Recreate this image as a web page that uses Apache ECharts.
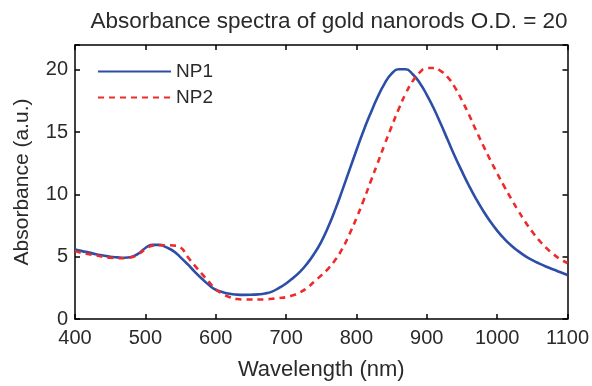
<!DOCTYPE html>
<html>
<head>
<meta charset="utf-8">
<script src="https://cdn.jsdelivr.net/npm/echarts@6/dist/echarts.min.js"></script>
<style>
  html, body { margin: 0; padding: 0; background: #fff; }
  #chart { width: 592px; height: 386px; }
</style>
</head>
<body>
<div id="chart"></div>
<script>
// wavelength grid, nm
const wavelengths = [
  400, 410, 420, 430, 440, 450, 460, 470, 480, 490,
  500, 510, 520, 530, 540, 550, 560, 570, 580, 590,
  600, 610, 620, 630, 640, 650, 660, 670, 680, 690,
  700, 710, 720, 730, 740, 750, 760, 770, 780, 790,
  800, 810, 820, 830, 840, 850, 860, 870, 880, 890,
  900, 910, 920, 930, 940, 950, 960, 970, 980, 990,
  1000, 1010, 1020, 1030, 1040, 1050, 1060, 1070, 1080, 1090, 1100
]

const np1 = [
  5.58, 5.45, 5.33, 5.2, 5.1, 5.0, 4.95, 4.92, 4.98, 5.25,
  5.7, 5.95, 5.95, 5.75, 5.45, 4.95, 4.4, 3.8, 3.25, 2.75,
  2.35, 2.15, 2.02, 1.96, 1.94, 1.95, 1.98, 2.05, 2.2, 2.5,
  2.85, 3.3, 3.8, 4.45, 5.25, 6.2, 7.4, 8.8, 10.35, 11.95,
  13.55, 15.1, 16.5, 17.8, 18.9, 19.7, 20.05, 20.05, 19.65, 18.95,
  18.0, 16.9, 15.65, 14.35, 13.05, 11.85, 10.7, 9.65, 8.7, 7.85,
  7.1, 6.45, 5.9, 5.45, 5.05, 4.72, 4.45, 4.2, 3.97, 3.75, 3.53
]

const np2 = [
  5.45, 5.3, 5.2, 5.1, 5.0, 4.92, 4.88, 4.88, 4.95, 5.2,
  5.6, 5.88, 5.92, 5.92, 5.9, 5.75, 5.0, 4.3, 3.65, 3.0,
  2.4, 2.0, 1.75, 1.6, 1.56, 1.56, 1.56, 1.58, 1.62, 1.68,
  1.75, 1.9, 2.15, 2.5, 3.0, 3.5, 4.05, 4.75, 5.65, 6.8,
  8.1, 9.5, 11.0, 12.5, 14.0, 15.45, 16.85, 18.1, 19.1, 19.8,
  20.15, 20.15, 19.9, 19.4, 18.6, 17.55, 16.4, 15.15, 13.95, 12.8,
  11.7, 10.65, 9.65, 8.7, 7.8, 7.0, 6.3, 5.7, 5.2, 4.8, 4.5
]

const xTicks = [400, 500, 600, 700, 800, 900, 1000, 1100]
const yTicks = [0, 5, 10, 15, 20]

const FONT = 'Liberation Sans, Arial, sans-serif'
const TEXT = '#2a2a2a'
const BLUE = '#2c4ea6'
const RED = '#ee2b2b'

const chart = echarts.init(document.getElementById('chart'), null, { renderer: 'canvas' })

const frameAxis = {
  axisLine: { show: true, onZero: false, lineStyle: { color: '#000', width: 1.5 } },
  axisTick: { show: true, inside: true, length: 5, lineStyle: { color: '#000', width: 1.5 } },
  splitLine: { show: false },
}

chart.setOption({
  animation: false,
  backgroundColor: '#fff',
  title: {
    text: 'Absorbance spectra of gold nanorods O.D. = 20',
    left: 324,
    textAlign: 'center',
    top: 5,
    textStyle: { fontFamily: FONT, fontSize: 22.5, fontWeight: 'normal', color: TEXT },
  },
  legend: {
    orient: 'vertical',
    left: 92,
    top: 57,
    itemWidth: 73,
    itemHeight: 14,
    itemGap: 7,
    itemStyle: { opacity: 0 },
    textStyle: { fontFamily: FONT, fontSize: 19, color: TEXT },
    data: ['NP1', 'NP2'],
  },
  grid: { left: 75, right: 22, top: 45, bottom: 61, containLabel: false },
  xAxis: [
    {
      ...frameAxis,
      type: 'value',
      min: 400,
      max: 1100,
      interval: 100,
      name: 'Wavelength (nm)',
      nameLocation: 'middle',
      nameGap: 40,
      nameTextStyle: { fontFamily: FONT, fontSize: 22, color: TEXT },
      axisLabel: {
        fontFamily: FONT, fontSize: 20, color: TEXT, margin: 9,
        formatter: (v) => (xTicks.includes(v) ? String(v) : ''),
      },
    },
    {
      ...frameAxis,
      type: 'value',
      position: 'top',
      min: 400,
      max: 1100,
      interval: 100,
      axisLabel: { show: false },
    },
  ],
  yAxis: [
    {
      ...frameAxis,
      type: 'value',
      min: 0,
      max: 22,
      interval: 5,
      name: 'Absorbance (a.u.)',
      nameLocation: 'middle',
      nameGap: 42,
      nameTextStyle: { fontFamily: FONT, fontSize: 21, color: TEXT },
      axisLabel: {
        fontFamily: FONT, fontSize: 20, color: TEXT, margin: 7,
        formatter: (v) => (yTicks.includes(v) ? String(v) : ''),
      },
    },
    {
      ...frameAxis,
      type: 'value',
      position: 'right',
      min: 0,
      max: 22,
      interval: 5,
      axisLabel: { show: false },
    },
  ],
  series: [
    {
      name: 'NP1',
      type: 'line',
      data: wavelengths.map((w, i) => [w, np1[i]]),
      smooth: 0.5,
      symbol: 'none',
      lineStyle: { color: BLUE, width: 2.6 },
      itemStyle: { color: BLUE },
    },
    {
      name: 'NP2',
      type: 'line',
      data: wavelengths.map((w, i) => [w, np2[i]]),
      smooth: 0.5,
      symbol: 'none',
      lineStyle: { color: RED, width: 2.6, type: [6, 5] },
      itemStyle: { color: RED },
    },
  ],
})
</script>
</body>
</html>
